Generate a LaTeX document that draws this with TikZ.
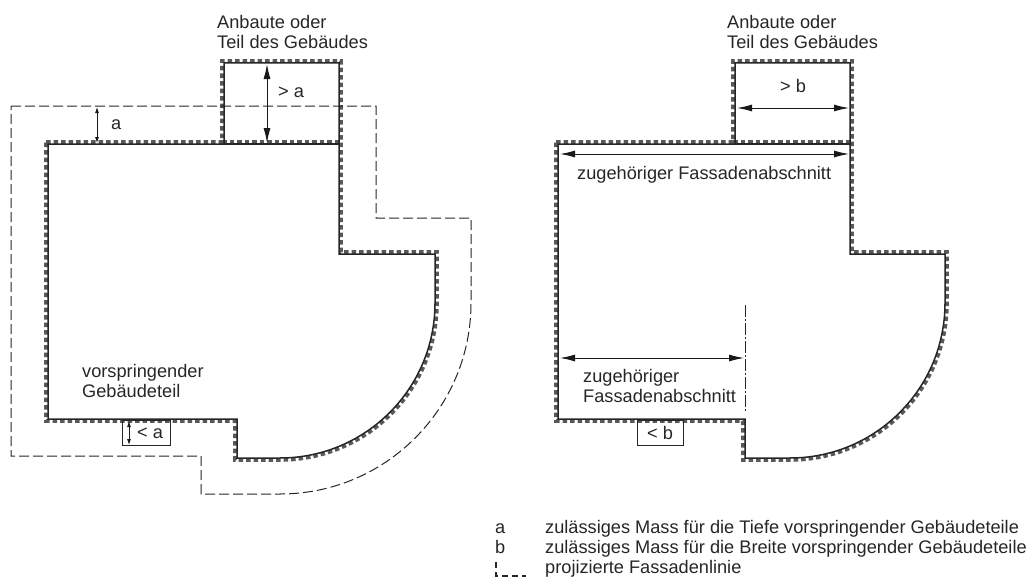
\documentclass[tikz,border=0pt]{standalone}
\usepackage{fontspec}
\setmainfont{Liberation Sans}
\usetikzlibrary{positioning, arrows.meta}

\begin{document}
\begin{tikzpicture}[x=1pt, y=-1pt, font=\fontsize{18.2}{20}\selectfont, text=black!85,
  outline/.style={line width=1.5pt, black!85},
  teeth/.style={line width=3.6pt, black!65, dash pattern=on 4.5pt off 3pt},
  projection/.style={line width=1pt, black!85, dash pattern=on 10pt off 4pt},
  measure/.style={line width=1pt, black!90, {Latex[length=15pt,width=7pt]}-{Latex[length=15pt,width=7pt]}},
  smallmeasure/.style={line width=0.8pt, black!90, {Latex[length=6pt,width=4pt]}-{Latex[length=6pt,width=4pt]}},
  label/.style={inner sep=0pt, anchor=west, align=left},
  keylabel/.style={inner sep=0pt, anchor=base west},
  limit/.style={line width=0.8pt, black!85}]
\useasboundingbox (0,0) rectangle (1030,578);

% left building
\draw[teeth] (46,142) -- (222,142) -- (222,61) -- (341,61) -- (341,252) -- (437,252) -- (437,303) arc (0:90:157 and 157) -- (235,460) -- (235,421) -- (46,421) -- cycle;
\draw[teeth] (222,142) -- (341,142);
\draw[outline] (48,144) -- (224,144) -- (224,63) -- (339,63) -- (339,254) -- (435,254) -- (435,303) arc (0:90:155 and 155) -- (237,458) -- (237,419) -- (48,419) -- cycle;
\draw[outline] (224,144) -- (339,144);
\draw[projection] (11,106) -- (376,106) -- (376,218) -- (471,218) -- (471,303) arc (0:90:191 and 191) -- (201,494) -- (201,456) -- (11,456) -- cycle;

\coordinate (a1) at (97,107);
\coordinate (a2) at (97,143);
\draw[smallmeasure] (a1) -- (a2);
\node[label] (lbla) at (111,125) {a};
\coordinate (over1) at (267,64);
\coordinate (over2) at (267,143);
\draw[measure] (over1) -- (over2);
\node[label] (lblover) at (278,92) {> a};
\node[label] (annexL) at (217,32) {Anbaute oder\\Teil des Gebäudes};
\node[label] (partL) at (82,381) {vorspringender\\Gebäudeteil};

\node[limit, draw, minimum width=48pt, minimum height=25pt, inner sep=0pt] (boxa) at (146,433) {};
\node[inner sep=0pt] (lblbox) at (150,433) {< a};
\coordinate (b1) at (129,421);
\coordinate (b2) at (129,445);
\draw[smallmeasure] (b1) -- (b2);

% right building
\draw[teeth] (556,142) -- (733,142) -- (733,61) -- (852,61) -- (852,252) -- (947,252) -- (947,303) arc (0:90:157 and 157) -- (743,460) -- (743,421) -- (556,421) -- cycle;
\draw[teeth] (733,142) -- (852,142);
\draw[outline] (558,144) -- (735,144) -- (735,63) -- (850,63) -- (850,254) -- (945,254) -- (945,303) arc (0:90:155 and 155) -- (745,458) -- (745,419) -- (558,419) -- cycle;
\draw[outline] (735,144) -- (850,144);

\coordinate (w1) at (737,108);
\coordinate (w2) at (849,108);
\draw[measure] (w1) -- (w2);
\node[label] (lblw) at (780,86) {> b};
\coordinate (f1) at (560,154);
\coordinate (f2) at (849,154);
\draw[measure] (f1) -- (f2);
\node[label] (lblf) at (577,175) {zugehöriger Fassadenabschnitt};
\coordinate (g1) at (560,358);
\coordinate (g2) at (744,358);
\draw[measure] (g1) -- (g2);
\node[label] (lblg) at (583,386) {zugehöriger\\Fassadenabschnitt};
\coordinate (c1) at (745,305);
\coordinate (c2) at (745,412);
\draw[limit, dash pattern=on 12pt off 2pt on 2pt off 2pt] (c1) -- (c2);
\node[limit, draw, minimum width=46pt, minimum height=25pt, inner sep=0pt] (boxb) at (660,433) {};
\node[inner sep=0pt] (lblboxb) at (660,433) {< b};
\node[label] (annexR) at (727,32) {Anbaute oder\\Teil des Gebäudes};

% legend
\node[keylabel] (keya) at (495,533) {a};
\node[keylabel] (keyb) at (495,553) {b};
\node[keylabel] (texta) at (545,533) {zulässiges Mass für die Tiefe vorspringender Gebäudeteile};
\node[keylabel] (textb) at (545,553) {zulässiges Mass für die Breite vorspringender Gebäudeteile};
\node[keylabel] (textc) at (545,573) {projizierte Fassadenlinie};
\coordinate (k1) at (496,562);
\coordinate (k2) at (496,576);
\coordinate (k3) at (526,576);
\draw[projection, line width=1.4pt, dash pattern=on 6pt off 4pt] (k1) -- (k2) -- (k3);
\end{tikzpicture}
\end{document}
